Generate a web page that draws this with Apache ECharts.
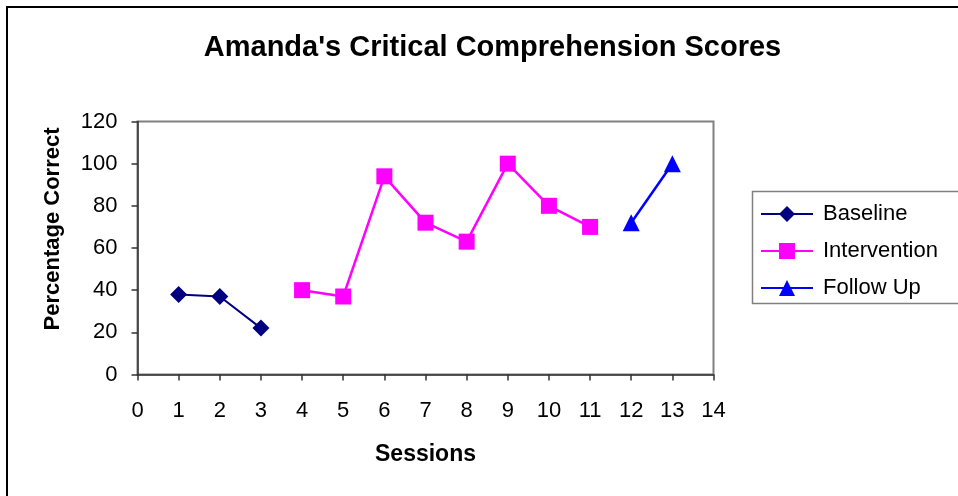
<!DOCTYPE html>
<html>
<head>
<meta charset="utf-8">
<script src="https://cdn.jsdelivr.net/npm/echarts@6/dist/echarts.min.js"></script>
<style>
  html, body { margin: 0; padding: 0; background: #fff; }
  #chart { width: 958px; height: 496px; }
</style>
</head>
<body>
<div id="chart"></div>
<script>
// Session numbers and percentage-correct scores for each study phase
const baselineSessions = [1, 2, 3];
const baselineScores = [38, 37, 22];
const interventionSessions = [4, 5, 6, 7, 8, 9, 10, 11];
const interventionScores = [40, 37, 94, 72, 63, 100, 80, 70];
const followUpSessions = [12, 13];
const followUpScores = [72, 100];
const seriesNames = ['Baseline', 'Intervention', 'Follow Up'];

const pairs = (xs, ys) => xs.map((x, i) => [x, ys[i]]);
const FONT = 'Liberation Sans, Arial, sans-serif';

const chart = echarts.init(document.getElementById('chart'), null, { renderer: 'canvas' });
chart.setOption({
  animation: false,
  backgroundColor: '#fff',
  title: {
    text: "Amanda's Critical Comprehension Scores",
    left: 487.5, top: 28, textAlign: 'center',
    textStyle: { fontFamily: FONT, fontSize: 29, fontWeight: 'bold', color: '#000' }
  },
  graphic: [
    // outer chart frame and legend box
    { type: 'rect', shape: { x: 7, y: 7, width: 1000, height: 600 },
      style: { fill: 'none', stroke: '#000', lineWidth: 2 }, z: 100 },
    { type: 'rect', shape: { x: 752.5, y: 191.5, width: 300, height: 112 },
      style: { fill: 'none', stroke: '#808080', lineWidth: 1.5 }, z: 100 }
  ],
  legend: {
    orient: 'vertical',
    left: 760, top: 203,
    itemWidth: 52, itemHeight: 20, itemGap: 15,
    padding: 0,
    textStyle: { fontFamily: FONT, fontSize: 22, color: '#000', padding: [0, 0, 0, 5] },
    data: seriesNames
  },
  grid: {
    left: 137.5, right: 244.5, top: 121.5, bottom: 121.5,
    show: true, borderColor: '#808080', borderWidth: 2, backgroundColor: '#fff'
  },
  xAxis: {
    type: 'value', min: 0, max: 14, interval: 1,
    name: 'Sessions', nameLocation: 'middle', nameGap: 69,
    nameTextStyle: { fontFamily: FONT, fontSize: 23, fontWeight: 'bold', color: '#000' },
    axisLine: { show: true, lineStyle: { color: '#333', width: 1.5 } },
    axisTick: { show: true, length: 6, lineStyle: { color: '#333', width: 1.5 } },
    axisLabel: { fontFamily: FONT, fontSize: 22, color: '#000', margin: 25 },
    splitLine: { show: false }
  },
  yAxis: {
    type: 'value', min: 0, max: 120, interval: 20,
    name: 'Percentage Correct', nameLocation: 'middle', nameGap: 74,
    nameTextStyle: { fontFamily: FONT, fontSize: 22, fontWeight: 'bold', color: '#000',
      padding: [0, 0, 0, 38] },
    axisLine: { show: true, lineStyle: { color: '#333', width: 1.5 } },
    axisTick: { show: true, length: 6, lineStyle: { color: '#333', width: 1.5 } },
    axisLabel: { fontFamily: FONT, fontSize: 22, color: '#000', margin: 20 },
    splitLine: { show: false }
  },
  series: [
    {
      name: seriesNames[0], type: 'line', data: pairs(baselineSessions, baselineScores),
      symbol: 'diamond', symbolSize: 17,
      lineStyle: { color: '#000080', width: 2 },
      itemStyle: { color: '#000080' }
    },
    {
      name: seriesNames[1], type: 'line', data: pairs(interventionSessions, interventionScores),
      symbol: 'rect', symbolSize: 16,
      lineStyle: { color: '#ff00ff', width: 2.5 },
      itemStyle: { color: '#ff00ff' }
    },
    {
      name: seriesNames[2], type: 'line', data: pairs(followUpSessions, followUpScores),
      symbol: 'triangle', symbolSize: 17,
      lineStyle: { color: '#0000ff', width: 2.5 },
      itemStyle: { color: '#0000ff' }
    }
  ]
});
</script>
</body>
</html>
